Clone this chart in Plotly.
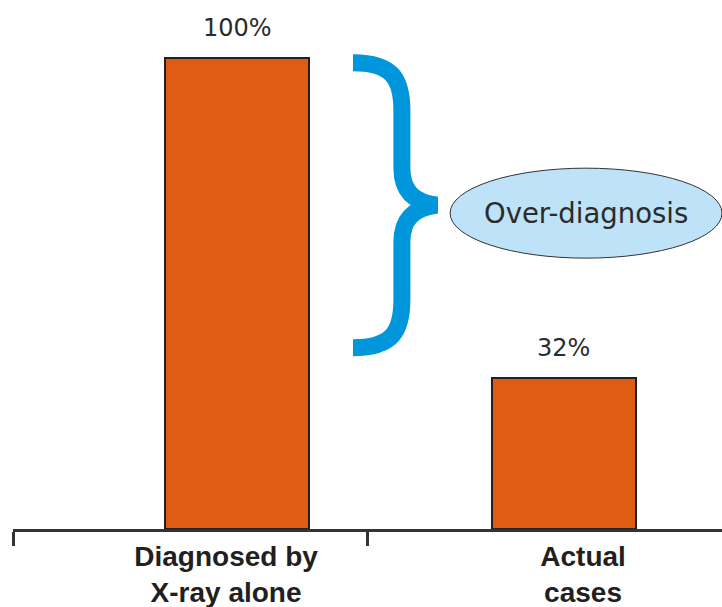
import plotly.graph_objects as go

# ---- data ----
categories = ["Diagnosed by<br>X-ray alone", "Actual<br>cases"]
values = [100, 32]
bar_positions = [0.632, 1.554]      # bar centres on the numeric x axis
label_positions = [0.601, 1.608]    # category label centres
category_ticks = [0, 1]             # boundary tick marks
annotation_text = "Over-diagnosis"

# ---- style ----
BAR_COLOR = "#E05B13"
EDGE = "#231f20"
BLUE = "#0096DB"
ELLIPSE_FILL = "#BEE2F7"
TXT = "#2b2b2b"

W, H = 722, 607
ML, MR, MT, MB = 13, 0, 0, 78
YMAX = 112.3

fig = go.Figure()
fig.add_trace(go.Bar(
    x=bar_positions, y=values, width=0.406,
    marker=dict(color=BAR_COLOR, line=dict(color=EDGE, width=2)),
    hoverinfo="skip", showlegend=False,
))

# value labels
for xv, v in zip(bar_positions, values):
    fig.add_annotation(x=xv, y=v, text=f"{v}%", showarrow=False,
                       yanchor="bottom", yshift=14,
                       font=dict(family="DejaVu Sans", size=24, color=TXT))

# brace spanning the over-diagnosis gap (decoration, in axis units)
top, bot = 99.0, 38.5
mid = (top + bot) / 2
xl, xs, xt = 0.959, 1.097, 1.196   # arm end, spine, tip
d = (top - bot)
def yy(f):
    return top - f * d
path = (
    f"M {xl},{top} "
    f"C {xl+0.11},{top} {xs},{yy(0.056)} {xs},{yy(0.168)} "
    f"L {xs},{yy(0.37)} "
    f"C {xs},{yy(0.45)} {xs+0.034},{mid+0.6} {xt},{mid} "
    f"C {xs+0.034},{mid-0.6} {xs},{yy(0.55)} {xs},{yy(0.63)} "
    f"L {xs},{yy(0.832)} "
    f"C {xs},{yy(0.944)} {xl+0.11},{bot} {xl},{bot}"
)
fig.add_shape(type="path", path=path, xref="x", yref="y",
              line=dict(color=BLUE, width=17), fillcolor="rgba(0,0,0,0)")

# ellipse with label
fig.add_shape(type="circle", xref="x", yref="y",
              x0=1.233, x1=2.0, y0=57.5, y1=76.6,
              fillcolor=ELLIPSE_FILL, line=dict(color="#333333", width=1))
fig.add_annotation(x=1.616, y=67.1, text=annotation_text, showarrow=False,
                   font=dict(family="DejaVu Sans", size=27.5, color=TXT))

fig.update_layout(
    width=W, height=H,
    margin=dict(l=ML, r=MR, t=MT, b=MB),
    paper_bgcolor="white", plot_bgcolor="white",
    xaxis=dict(
        range=[0, 2], showgrid=False, zeroline=False, automargin=False,
        showline=True, linecolor="#333333", linewidth=3,
        tickmode="array", tickvals=label_positions,
        ticktext=[f"<b>{c}</b>" for c in categories],
        ticks="", ticklabelstandoff=0,
        tickfont=dict(family="Liberation Sans, Arial", size=28, color="#231f20"),
        minor=dict(tickmode="array", tickvals=category_ticks, ticks="outside",
                   ticklen=14, tickwidth=3, tickcolor="#333333", showgrid=False),
        fixedrange=True,
    ),
    yaxis=dict(range=[0, YMAX], visible=False, fixedrange=True, automargin=False),
    bargap=0,
)

fig.write_html("out.html")
